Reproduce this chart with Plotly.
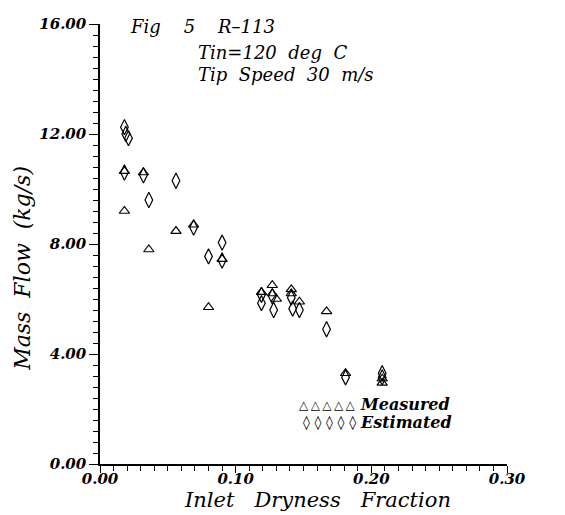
import plotly.graph_objects as go

# Measured (triangles)
meas_x = [0.018, 0.018, 0.032, 0.036, 0.056, 0.069, 0.090, 0.080, 0.119, 0.127, 0.127, 0.130,
          0.141, 0.141, 0.147, 0.167, 0.181, 0.208, 0.208]
meas_y = [10.65, 9.2, 10.6, 7.8, 8.47, 8.7, 7.45, 5.7, 6.25, 6.5, 6.2, 6.0,
          6.35, 6.2, 5.9, 5.55, 3.3, 3.1, 2.95]

# Estimated (diamonds)
est_x = [0.018, 0.019, 0.021, 0.018, 0.032, 0.056, 0.036, 0.069, 0.090, 0.080, 0.090,
         0.119, 0.119, 0.127, 0.128, 0.141, 0.142, 0.147, 0.167, 0.181, 0.208, 0.208]
est_y = [12.25, 12.0, 11.85, 10.6, 10.5, 10.3, 9.6, 8.6, 8.05, 7.55, 7.4,
         6.15, 5.85, 6.1, 5.6, 6.05, 5.65, 5.6, 4.9, 3.15, 3.3, 3.15]

x_ticks = [0.0, 0.1, 0.2, 0.3]
x_tick_labels = ["0.00", "0.10", "0.20", "0.30"]
y_ticks = [0, 4, 8, 12, 16]
y_tick_labels = ["0.00", "4.00", "8.00", "12.00", "16.00"]

title_lines = ["Fig    5    R–113", "Tin=120  deg  C", "Tip  Speed  30  m/s"]
x_title = "Inlet   Dryness   Fraction"
y_title = "Mass  Flow  (kg/s)"
legend_names = ["Measured", "Estimated"]
legend_symbols = ["\u25B3\u2009\u25B3\u2009\u25B3\u2009\u25B3\u2009\u25B3",
                  "\u25CA\u2004\u25CA\u2004\u25CA\u2004\u25CA\u2004\u25CA"]
legend_symbol_sizes = [12, 14]

FONT = "DejaVu Serif"

fig = go.Figure()
fig.add_trace(go.Scatter(x=meas_x, y=meas_y, mode="markers", name=legend_names[0],
                         marker=dict(symbol="triangle-up-open", size=9, color="black",
                                     line=dict(width=1.2, color="black"))))
fig.add_trace(go.Scatter(x=est_x, y=est_y, mode="markers", name=legend_names[1],
                         marker=dict(symbol="diamond-tall-open", size=11, color="black",
                                     line=dict(width=1.2, color="black"))))

axis_font = dict(family=FONT, size=15, color="black", style="italic", weight="bold")

# main x axis: line and ticks only
fig.update_layout(xaxis=dict(range=[0, 0.3], tickmode="array", tickvals=x_ticks,
                             showticklabels=False,
                             ticks="outside", ticklen=7, tickwidth=1.3, tickcolor="black",
                             minor=dict(dtick=0.01, ticks="outside", ticklen=5, tickwidth=1,
                                        tickcolor="black"),
                             showline=True, linecolor="black", linewidth=1.5, showgrid=False,
                             zeroline=False),
                  # overlay x axis carrying the tick labels close to the line
                  xaxis2=dict(range=[0, 0.3], overlaying="x", side="bottom", anchor="y",
                              tickmode="array", tickvals=x_ticks, ticktext=x_tick_labels,
                              ticks="", showline=False, showgrid=False, zeroline=False,
                              tickfont=axis_font, ticklabelstandoff=4))
# an invisible trace so xaxis2 is drawn
fig.add_trace(go.Scatter(x=[x_ticks[0]], y=[y_ticks[0]], xaxis="x2", mode="markers",
                         marker=dict(opacity=0), hoverinfo="skip", showlegend=False))

fig.update_yaxes(range=[0, 16], tickmode="array", tickvals=y_ticks, ticktext=y_tick_labels,
                 ticks="outside", ticklen=9, tickwidth=1.3, tickcolor="black",
                 minor=dict(dtick=0.4, ticks="outside", ticklen=5, tickwidth=1, tickcolor="black"),
                 showline=True, linecolor="black", linewidth=1.5, showgrid=False, zeroline=False,
                 tickfont=axis_font, ticklabeloverflow="allow")

# axis titles
fig.add_annotation(text=x_title, xref="paper", yref="paper", x=0.535, y=-0.081,
                   xanchor="center", yanchor="middle", showarrow=False, borderpad=0,
                   font=dict(family=FONT, size=21, color="black", style="italic"))
fig.add_annotation(text=y_title, xref="paper", yref="paper", x=-0.19, y=0.445,
                   xanchor="center", yanchor="middle", showarrow=False, textangle=-90,
                   font=dict(family=FONT, size=22, color="black", style="italic"))

title_pos = [(0.068, 0.994), (0.235, 0.935), (0.235, 0.886)]
for txt, (px, py) in zip(title_lines, title_pos):
    fig.add_annotation(text=txt, xref="paper", yref="paper", x=px, y=py, xanchor="left",
                       yanchor="middle", showarrow=False,
                       font=dict(family=FONT, size=18, color="black", style="italic"))

leg_y = [0.135, 0.095]
for sym, ssize, name, ly in zip(legend_symbols, legend_symbol_sizes, legend_names, leg_y):
    fig.add_annotation(text=sym, xref="paper", yref="paper", x=0.632, y=ly,
                       xanchor="right", yanchor="middle", showarrow=False, borderpad=0,
                       font=dict(family=FONT, size=ssize, color="black"))
    fig.add_annotation(text="<b><i>" + name + "</i></b>", xref="paper", yref="paper",
                       x=0.636, y=ly, xanchor="left", yanchor="middle", showarrow=False,
                       borderpad=0, font=dict(family=FONT, size=16, color="black"))

fig.update_layout(width=565, height=515, margin=dict(l=92, r=66, t=7, b=59),
                  paper_bgcolor="white", plot_bgcolor="white", showlegend=False)

fig.write_html("out.html")
